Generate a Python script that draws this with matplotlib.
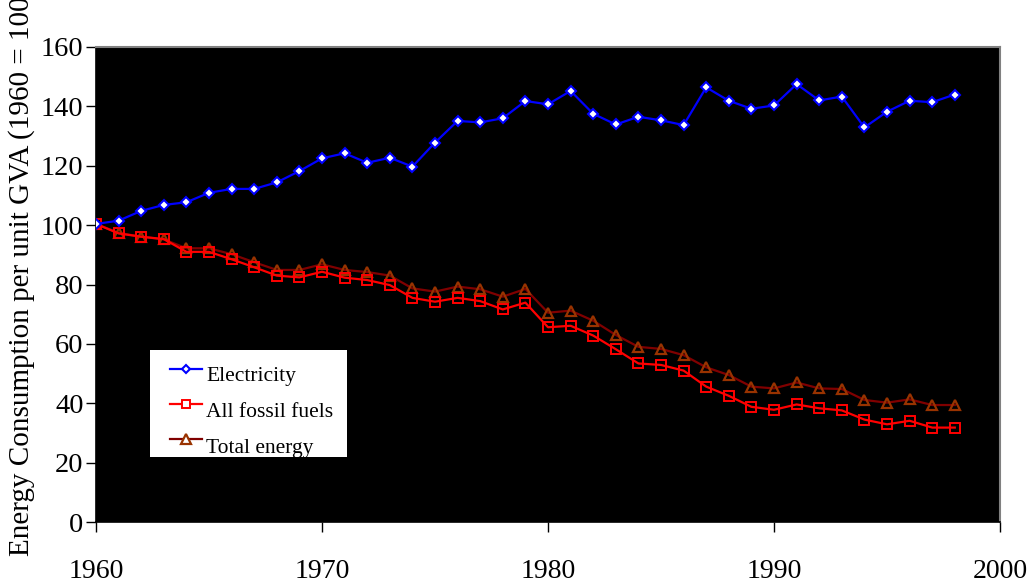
import matplotlib
matplotlib.use("Agg")
import matplotlib.pyplot as plt
from matplotlib.patches import Rectangle
from matplotlib.lines import Line2D

years = list(range(1960, 1999))
electricity = [100.4, 101.5, 104.8, 106.8, 107.7, 110.9, 112.2, 112.2, 114.4, 118.2,
               122.5, 124.2, 121.0, 122.7, 119.7, 127.8, 135.1, 134.6, 136.0, 141.8,
               140.7, 145.2, 137.5, 133.9, 136.5, 135.3, 133.7, 146.4, 141.9, 139.2,
               140.3, 147.5, 142.0, 143.3, 132.9, 138.2, 141.9, 141.4, 144.0]
fossil = [100.4, 97.2, 96.1, 95.3, 91.0, 91.0, 88.5, 85.8, 83.0, 82.4,
          84.3, 82.3, 81.5, 79.8, 75.5, 74.2, 75.5, 74.4, 71.6, 73.9,
          65.6, 66.1, 62.8, 58.2, 53.4, 52.9, 51.0, 45.6, 42.5, 38.8,
          37.8, 39.6, 38.3, 37.6, 34.5, 32.9, 34.1, 31.8, 31.8]
total = [100.4, 97.4, 96.1, 95.2, 92.2, 92.2, 90.2, 87.5, 84.9, 84.9,
         86.8, 84.9, 84.2, 83.0, 78.7, 77.6, 79.3, 78.4, 75.9, 78.5,
         70.5, 71.2, 67.8, 63.0, 59.0, 58.3, 56.2, 52.1, 49.5, 45.6,
         45.0, 47.0, 45.0, 44.8, 41.1, 40.2, 41.3, 39.4, 39.4]
series_names = ["Electricity", "All fossil fuels", "Total energy"]
x_ticks = [1960, 1970, 1980, 1990, 2000]
y_ticks = [0, 20, 40, 60, 80, 100, 120, 140, 160]

plt.rcParams['font.family'] = ['Liberation Serif', 'DejaVu Serif']

fig = plt.figure(figsize=(10.28, 5.83), dpi=100)
ax = fig.add_axes([96/1028, 1-522/583, 904/1028, 475/583])
ax.set_facecolor('black')

styles = [
    dict(color='#0000FF', marker='D', markersize=5.5, markerfacecolor='white',
         markeredgecolor='#0000FF', markeredgewidth=1.5, lw=1.6),
    dict(color='#FF0000', marker='s', markersize=6.5, markerfacecolor='none',
         markeredgecolor='#FF0000', markeredgewidth=1.4, lw=1.6),
    dict(color='#800000', marker='^', markersize=7.5, markerfacecolor='none',
         markeredgecolor='#993300', markeredgewidth=1.6, lw=1.6),
]
ax.plot(years, total, **styles[2], zorder=3)
ax.plot(years, fossil, **styles[1], zorder=4)
ax.plot(years, electricity, **styles[0], zorder=5)

ax.set_xlim(1960, 2000)
ax.set_ylim(0, 160)
ax.set_xticks(x_ticks)
ax.set_yticks(y_ticks)
ax.tick_params(axis='x', direction='out', length=7, width=1, pad=20, labelsize=20)
ax.tick_params(axis='y', direction='out', length=7, width=1, pad=2, labelsize=20.5)
for s in ['top', 'right']:
    ax.spines[s].set_color('#808080')
    ax.spines[s].set_linewidth(1.5)
for s in ['left', 'bottom']:
    ax.spines[s].set_color('black')
    ax.spines[s].set_linewidth(1.2)

fig.text(22/1028, 1-556/583, "Energy Consumption per unit GVA (1960 = 100)",
         rotation=90, ha='center', va='bottom', fontsize=21)

# legend box (manual, clipped like the reference)
lx0 = (150-96)/904
lx1 = (347-96)/904
ly0 = (522-457)/475
ly1 = (522-350)/475
rect = Rectangle((lx0, ly0), lx1-lx0, ly1-ly0, transform=ax.transAxes,
                 facecolor='white', edgecolor='none', zorder=6)
ax.add_patch(rect)
rows = [369, 404, 439]
text_rows = [377, 412.5, 449]
for i, name in enumerate(series_names):
    yy = (522-rows[i])/475
    st = dict(styles[i])
    ln = Line2D([(170-96)/904, (202-96)/904], [yy, yy], transform=ax.transAxes,
                color=st['color'], lw=st['lw'], zorder=7)
    ax.add_line(ln)
    mk = Line2D([(186-96)/904], [yy], transform=ax.transAxes, linestyle='none',
                marker=st['marker'], markersize=st['markersize']-1,
                markerfacecolor='white', markeredgecolor=st['markeredgecolor'],
                markeredgewidth=st['markeredgewidth'], zorder=8)
    ax.add_line(mk)
    t = ax.text((206-96)/904, (522-text_rows[i])/475, name, transform=ax.transAxes,
                ha='left', va='center', fontsize=15.5, color='black', zorder=9)
    t.set_clip_path(rect)

fig.savefig("out.png", dpi=100, facecolor='white')
